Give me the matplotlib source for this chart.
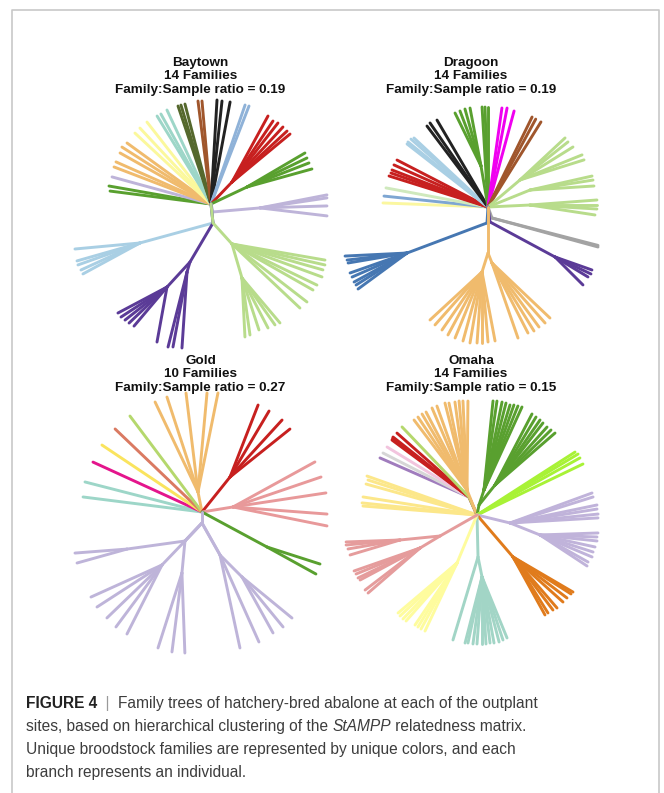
import numpy as np
import matplotlib.pyplot as plt
from matplotlib.collections import LineCollection

W, H = 664, 793

# Each family: colour, stem pieces (angle in degrees, length) from the tree root
# to the family node, then fans: (offset pieces from the family node, tips as (angle, length)).

# ---------------- Baytown ----------------
baytown_colours = ['#59a02f', '#beb4d9', '#f0bb6d', '#fbf89c', '#9dd6c8', '#55682d', '#a0562c',
                   '#222222', '#8fb2d8', '#c7201f', '#59a02f', '#beb4d9', '#a9cfe4', '#5b3b97',
                   '#b8dc8b']
baytown_stems = [[], [], [], [], [], [], [], [], [],
                 [(46.3, 30.4)],
                 [(25.3, 39.8)],
                 [(-76, 8.2), (4.9, 47.2)],
                 [(-84, 19.1), (-164.7, 75.7)],
                 [(-84, 19.1), (-120.5, 45.3)],
                 [(-84, 19.1), (-47.9, 28.3)]]
baytown_fans = [
    [([], [(170.0, 103.6), (172.7, 101.8)])],
    [([], [(164.7, 102.6)])],
    [([], [(159.1, 103.8), (156.1, 103.9), (150.7, 104.3), (147.4, 105.7), (144.0, 103.8)])],
    [([], [(137.0, 104), (133.1, 104), (128.0, 104)])],
    [([], [(121.5, 103.2), (119.1, 103), (115.1, 103.8)])],
    [([], [(108.6, 103.4), (106.9, 103.4), (104.6, 103.3)])],
    [([], [(97.2, 103.8), (95.0, 103.4)])],
    [([], [(86.7, 104.2), (83.9, 103.6), (79.4, 103.8)])],
    [([], [(71.0, 104.7), (68.8, 105.1)])],
    [([], [(61.4, 75.2), (56.1, 73.5), (52.1, 74.8), (47.2, 75), (42.8, 75), (39.6, 75.3)])],
    [([], [(30.4, 67.2), (25.8, 66.6), (21.2, 66.5), (15.5, 67.4)])],
    [([], [(11.0, 68.2), (8.5, 67.7), (1.7, 67), (-6.8, 67.5)])],
    [([], [(185.3, 65.3), (195.9, 65.5), (199.5, 65.8), (204.6, 64.9), (208.5, 64.9)])],
    [([(-132.6, 34)], [(207.9, 55.5), (213.1, 54.9), (218.2, 53.4), (223.5, 52.3),
                       (229.8, 51.1), (259.7, 55.9)]),
     ([(-106.7, 10.4)], [(255.8, 77.4), (259.4, 76.3), (266.2, 76.2)])],
    [([], [(-9.8, 94.4), (-12.7, 95.3), (-15.9, 94.6), (-20.1, 95.9), (-25.8, 94.4),
           (-29.6, 93.2), (-37.7, 94.8), (-43.3, 93.4)]),
     ([(-73.6, 35.4)], [(-87.1, 59.1), (-82.0, 57.6), (-71.9, 54.7), (-62.5, 56.4),
                        (-54.9, 57.4), (-49.8, 58.9)])],
]

# ---------------- Dragoon ----------------
dragoon_colours = ['#fbf7a0', '#7ea6d2', '#cfe9bd', '#c7201f', '#a9cfe4', '#222222', '#59a02f',
                   '#f000f0', '#a0562c', '#b8dc8b', '#a3a3a3', '#5b3b97', '#4677b2', '#f0bb6d']
dragoon_stems = [[], [], [], [], [], [], [], [], [], [],
                 [(-70, 11.7)],
                 [(-82.4, 15.1), (-28.3, 73.8)],
                 [(-93.6, 16), (-159.4, 85.4)],
                 [(-90, 46)]]
dragoon_fans = [
    [([], [(177.8, 105.1)])],
    [([], [(174.0, 104.6)])],
    [([], [(169.4, 103.8)])],
    [([], [(162.6, 103.7), (160.7, 102.8), (158.9, 102.9), (155.9, 103), (152.7, 102.4)])],
    [([], [(142.1, 102.6), (140.9, 103.1), (138.6, 102.7), (137.0, 101.2)])],
    [([], [(127.0, 101.4), (124.6, 102.1), (120.4, 100.8)])],
    [([(99.7, 41.6)], [(116.1, 59), (110.9, 58.9), (105.7, 59.2), (100.7, 59)]),
     ([], [(93.4, 100.2), (91.7, 100), (90, 100)])],
    [([], [(82.0, 100), (79.1, 100.8), (74.8, 99.5)])],
    [([], [(63.9, 100.2), (61.5, 100), (58.1, 100.2)])],
    [([(40.2, 41.9)], [(43.0, 61.6), (38.4, 61.2), (31.9, 62.4), (22.0, 66.9), (17.4, 67.1)]),
     ([(22.0, 45.3)], [(12.7, 63.6), (9.0, 63.8), (3.6, 64.1)]),
     ([(2.7, 42)], [(4.3, 67.2), (0, 67), (-3.4, 67.1), (-8.7, 65.8)])],
    [([], [(-15.3, 109.9), (-14.5, 109.5)])],
    [([], [(-19.4, 39.2), (-25.3, 39.8), (-31.2, 38.6), (-45, 39.6)])],
    [([], [(182.8, 62.1), (186.7, 60.4), (189.6, 59.8), (199.3, 60.4), (203.6, 60),
           (208.7, 60.4), (212.1, 60.2), (216.3, 60.8)])],
    [([(-107.5, 19.9)], [(222.7, 70.8), (228.4, 70.8), (235.4, 70.5), (241.6, 71.6),
                         (247.8, 71.3), (254.6, 71.6), (260.4, 72), (266, 71.2), (270, 71),
                         (274.9, 70.3), (280.7, 70.2)]),
     ([(-68.2, 10.8)], [(-70.9, 79.4), (-62.8, 78.7), (-58.3, 79.9), (-53.7, 79.4),
                        (-48.5, 80.1), (-43.5, 79.9)])],
]

# ---------------- Gold ----------------
gold_colours = ['#9dd6c8', '#e4158c', '#fae45e', '#da7a62', '#b5d86d', '#f0bb6d', '#c7201f',
                '#e8999a', '#59a02f', '#beb4d9']
gold_stems = [[], [], [], [], [],
              [(101.3, 20.4)],
              [(51.3, 44.8)],
              [(9.2, 31.4)],
              [(-28.3, 73.8)],
              [(-90, 11)]]
gold_fans = [
    [([], [(165.6, 120.8), (172.8, 119.9)])],
    [([], [(155.4, 119.9)])],
    [([], [(146.2, 120.4)])],
    [([], [(136.3, 120.2)])],
    [([], [(126.9, 120)])],
    [([], [(115.5, 99.7), (108.1, 99.9), (96.9, 99.7), (84.8, 99.4), (78.6, 101)])],
    [([], [(68.7, 77.3), (59.4, 76.7), (47.6, 77.2), (38.7, 76.8)])],
    [([], [(28.8, 93.5), (18.8, 93), (8.6, 94), (-4.3, 94.3), (-11.4, 95.9)])],
    [([], [(-17.8, 55.7), (-28.9, 55.9)])],
    [([(226.6, 24.8), (187.9, 58.5)], [(184.4, 52.2), (195.6, 51.9)]),
     ([(226.6, 24.8), (226.2, 33.2)], [(204.3, 77.9), (212.9, 77.4), (223.9, 76.4),
                                      (233.4, 77.2), (243.1, 77.4)]),
     ([(226.6, 24.8), (264.6, 32.1)], [(252.3, 78.7), (262.8, 79.6), (-87.9, 80.1)]),
     ([(-60.6, 36.7)], [(-77.9, 95.1), (-65.9, 95.3)]),
     ([(-60.6, 36.7), (-45, 31.1)], [(-61.0, 64), (-50.6, 64.7), (-39.4, 64.7)])],
]

# ---------------- Omaha ----------------
omaha_colours = ['#fce78a', '#a07cbd', '#d6d6d6', '#f2c4de', '#c7201f', '#b5d86d', '#f0bb6d',
                 '#59a02f', '#a8f236', '#c0b3da', '#e07b1c', '#a2d5c6', '#fefc9e', '#e59c9c']
omaha_stems = [[],
               [(114, 19.7)], [(114, 19.7)], [(114, 19.7)], [(114, 19.7)], [(114, 19.7)],
               [(111.8, 26.9)],
               [(78.7, 10.2)],
               [],
               [(-13.6, 34)],
               [(-49.4, 55.3)],
               [(-88.6, 42)],
               [(-112.6, 52)],
               [(209.6, 42.5)]]
omaha_fans = [
    [([], [(160.5, 116.7), (162.2, 114.5), (164.4, 115.2), (171.0, 115.4), (174.0, 115.6),
           (175.5, 114.4)])],
    [([], [(156.3, 97.2)])],
    [([], [(152.9, 96.6)])],
    [([], [(148.6, 96)])],
    [([], [(143.5, 95.8), (142.5, 96.3), (141.7, 96.8), (138.4, 96.3)])],
    [([], [(133.7, 96.9)])],
    [([], [(127.1, 87.8), (123.9, 87.9), (120.6, 88.3), (117.7, 88.1), (113.1, 89.2),
           (109.7, 89.2), (104.2, 89.7), (101.7, 88.8), (97.8, 88.8), (95.1, 89.4),
           (92.6, 89.1), (89.4, 89)])],
    [([(71.6, 15.8)], [(84.2, 89.5), (81.7, 89.9), (78.4, 89.8), (75.8, 89.7), (73.0, 88.9),
                       (70.6, 90.1), (68.0, 90.6), (65.4, 91.3)]),
     ([(51.3, 25.6)], [(62.5, 80.1), (58.9, 79.4), (55.3, 79.1), (52.3, 78.4), (48.1, 77.9),
                       (44.5, 78.5), (40.9, 79.4)])],
    [([], [(32.7, 116.5), (31.1, 118), (29.0, 117.7), (25.7, 117.6)])],
    [([], [(20.1, 87.3), (17.4, 87), (11.7, 88.8), (9.1, 88.1), (5.8, 88.5), (3.3, 88.1)]),
     ([(-21.8, 32.3)], [(2.0, 58), (-2.0, 57), (-6.0, 57.3), (-12.3, 56.3), (-17.8, 55.7),
                        (-22.9, 56.5), (-29.4, 55.1), (-33.4, 56.3)])],
    [([], [(-61.1, 66.2), (-58.0, 66), (-53.0, 66.4), (-49.2, 67.4), (-42.0, 67.3),
           (-37.2, 67.8), (-32.5, 68.8), (-30.3, 69.5)])],
    [([], [(-106.8, 86.7)]),
     ([(-78.7, 20.4)], [(255.6, 68.2), (258.0, 67.5), (262.3, 67.6), (265.7, 67.2), (270, 67),
                        (273.4, 67.1), (276.9, 66.5), (280.3, 67.1), (284.7, 67.2),
                        (288.4, 66.4), (292.3, 65.9)])],
    [([], [(220.3, 77.3), (222.9, 77.8), (226.0, 77.8), (228.7, 77.2), (235.9, 74.9),
           (238.6, 75), (241.4, 75.2), (244.8, 75.2)])],
    [([(185.7, 40.2)], [(182.1, 54), (185.3, 54.2), (189.8, 52.8), (196.7, 52.2)]),
     ([(211, 23.3)], [(199.2, 69.9), (202.1, 69.1), (205.8, 68.9), (208.1, 68),
                      (217.4, 69.2), (220.9, 68.8)])],
]

sites = ['Baytown', 'Dragoon', 'Gold', 'Omaha']
n_families = [14, 14, 10, 14]
ratios = [0.19, 0.19, 0.27, 0.15]


def walk(p, pieces):
    x, y = p
    pts = [(x, y)]
    for a, l in pieces:
        x += l * np.cos(np.radians(a))
        y -= l * np.sin(np.radians(a))
        pts.append((x, y))
    return pts


def draw_tree(ax, root, colours, stems, fans):
    for c, stem, fan in zip(colours, stems, fans):
        path = walk(root, stem)
        segs = list(zip(path[:-1], path[1:]))
        node = path[-1]
        for offset, tips in fan:
            p2 = walk(node, offset)
            segs += list(zip(p2[:-1], p2[1:]))
            hub = p2[-1]
            for a, l in tips:
                segs.append((hub, walk(hub, [(a, l)])[-1]))
        ax.add_collection(LineCollection(segs, colors=c, linewidths=2.1,
                                         capstyle='round'))


fig = plt.figure(figsize=(W / 100, H / 100), dpi=100)
ax = fig.add_axes([0, 0, 1, 1])
ax.set_xlim(0, W)
ax.set_ylim(H, 0)
ax.axis('off')

# panel frame
ax.plot([12, 12, 658.5, 658.5], [H + 5, 9.5, 9.5, H + 5], color='#c8c8c8', lw=1.2)

roots = [(211, 204), (488, 207), (202, 512), (477, 515)]
title_x = [200.5, 471, 200.5, 471]
title_y = [63, 361]
data = [(baytown_colours, baytown_stems, baytown_fans),
        (dragoon_colours, dragoon_stems, dragoon_fans),
        (gold_colours, gold_stems, gold_fans),
        (omaha_colours, omaha_stems, omaha_fans)]

for i, (site, nf, r) in enumerate(zip(sites, n_families, ratios)):
    draw_tree(ax, roots[i], *data[i])
    ty = title_y[i // 2]
    lines = [site, f'{nf} Families', f'Family:Sample ratio = {r:.2f}']
    for k, s in enumerate(lines):
        ax.text(title_x[i], ty + 13.4 * k, s, ha='center', va='center', fontsize=9.7,
                fontweight='bold', family='Liberation Sans', color='#111111')

# caption
renderer = fig.canvas.get_renderer()
cap_kw = dict(family='Liberation Sans', fontsize=11.2, color='#3d3d3d')


def run_line(x, y, runs):
    for s, extra in runs:
        kw = dict(cap_kw)
        kw.update(extra)
        t = ax.text(x, y, s, ha='left', va='baseline', **kw)
        x += t.get_window_extent(renderer).width


base = 708
run_line(26, base, [('FIGURE 4', dict(fontweight='bold', color='#222222')),
                    ('  |  ', dict(color='#9a9a9a')),
                    ('Family trees of hatchery-bred abalone at each of the outplant', {})])
run_line(26, base + 23, [('sites, based on hierarchical clustering of the ', {}),
                         ('StAMPP', dict(style='italic')),
                         (' relatedness matrix.', {})])
run_line(26, base + 46, [('Unique broodstock families are represented by unique colors, and each', {})])
run_line(26, base + 69, [('branch represents an individual.', {})])

fig.savefig('out.png', dpi=100)
